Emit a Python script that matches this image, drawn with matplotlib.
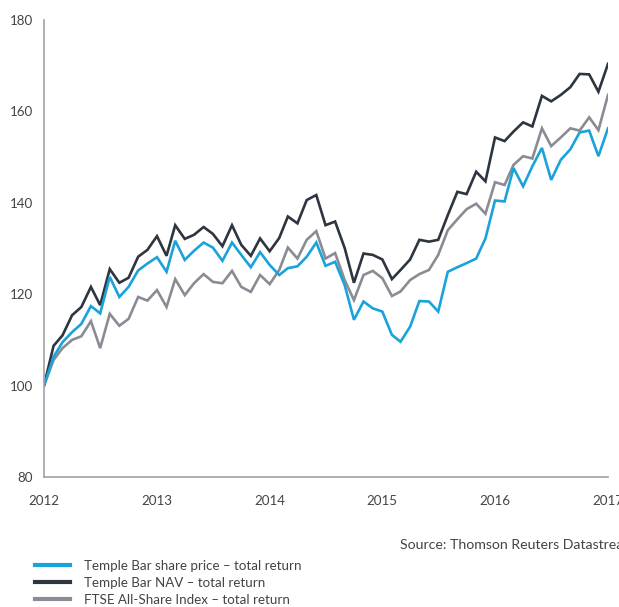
import matplotlib
matplotlib.use("Agg")
import matplotlib.pyplot as plt
import matplotlib.dates as mdates
import pandas as pd

plt.rcParams['font.family'] = ['Lato', 'DejaVu Sans']

# monthly observations, Jan 2012 - Jan 2017 (rebased to 100)
months = pd.date_range('2012-01-01', '2017-01-01', freq='MS')

share_price = [100, 106.3, 109.5, 111.7, 113.5, 117.4, 115.8, 123.8, 119.4, 121.6, 125.2, 126.7,
               128.1, 124.9, 131.7, 127.5, 129.5, 131.3, 130.2, 127.3, 131.3, 128.6, 125.9, 129.2,
               126.4, 124.2, 125.7, 126.1, 128.2, 131.3, 126.2, 127.1, 122.0, 114.4, 118.4, 116.9,
               116.2, 111.1, 109.6, 112.9, 118.5, 118.4, 116.2, 124.9, 125.9, 126.8, 127.8, 132.2,
               140.5, 140.3, 147.6, 143.6, 148.0, 152.0, 145.0, 149.4, 151.7, 155.4, 155.8, 150.2,
               156.3]
nav = [100, 108.7, 111.0, 115.4, 117.2, 121.6, 117.6, 125.5, 122.5, 123.6, 128.2, 129.7,
       132.7, 128.4, 135.1, 132.1, 133.0, 134.7, 133.2, 130.5, 135.1, 130.8, 128.4, 132.2,
       129.4, 132.3, 137.0, 135.5, 140.6, 141.7, 135.1, 135.9, 130.1, 122.5, 128.9, 128.6,
       127.6, 123.3, 125.3, 127.6, 131.9, 131.5, 131.9, 137.3, 142.4, 141.9, 146.8, 144.7,
       154.3, 153.5, 155.6, 157.6, 156.7, 163.4, 162.2, 163.6, 165.3, 168.2, 168.1, 164.3,
       170.4]
ftse = [100, 105.6, 108.2, 110.0, 110.8, 114.1, 108.2, 115.7, 113.1, 114.6, 119.4, 118.6,
        120.9, 117.2, 123.3, 119.8, 122.4, 124.4, 122.7, 122.4, 125.1, 121.6, 120.5, 124.2,
        122.2, 125.3, 130.2, 127.8, 131.9, 133.8, 127.8, 129.0, 123.1, 118.7, 124.2, 125.1,
        123.5, 119.6, 120.6, 123.1, 124.4, 125.3, 128.6, 134.0, 136.4, 138.6, 139.8, 137.6,
        144.5, 143.9, 148.3, 150.2, 149.7, 156.3, 152.4, 154.3, 156.3, 155.8, 158.7, 155.9,
        163.6]

labels = ['Temple Bar share price – total return',
          'Temple Bar NAV – total return',
          'FTSE All-Share Index – total return']
colors = ['#1aa3da', '#2d3540', '#8b8c93']
text_col = '#444444'

fig = plt.figure(figsize=(6.19, 6.07), dpi=100)
ax = fig.add_axes([44/619, 1 - 477/607, 564/619, 457/607])

lines = []
for vals, lab, col in [(ftse, labels[2], colors[2]), (nav, labels[1], colors[1]),
                       (share_price, labels[0], colors[0])]:
    ln, = ax.plot(months, vals, color=col, lw=1.9, label=lab, solid_joinstyle='miter')
    lines.append(ln)

ax.set_ylim(80, 180)
ax.set_yticks(range(80, 181, 20))
ax.set_xlim(months[0], months[-1])
ax.xaxis.set_major_locator(mdates.YearLocator())
ax.xaxis.set_major_formatter(mdates.DateFormatter('%Y'))

for s in ['top', 'right']:
    ax.spines[s].set_visible(False)
for s in ['left', 'bottom']:
    ax.spines[s].set_color('#a0a2a8')
    ax.spines[s].set_linewidth(1.2)
ax.tick_params(length=0, labelsize=9.6, colors=text_col)
ax.tick_params(axis='y', pad=8)
ax.tick_params(axis='x', pad=13)

fig.text(400/619, 1 - 545/607, 'Source: Thomson Reuters Datastream',
         fontsize=10.2, color=text_col, ha='left', va='center')

leg = fig.legend(lines[::-1], labels, loc='upper left',
                 bbox_to_anchor=(35/619, 1 - 560/607), frameon=False,
                 fontsize=9.6, handlelength=2.6, handletextpad=1.1,
                 labelspacing=0.36, borderaxespad=0, borderpad=0)
for t in leg.get_texts():
    t.set_color(text_col)
for h in leg.legend_handles:
    h.set_linewidth(3)

fig.savefig('out.png', dpi=100)
